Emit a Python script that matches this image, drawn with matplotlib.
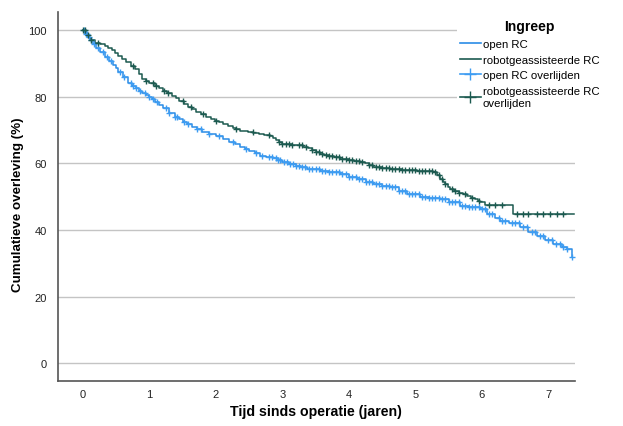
import numpy as np
import matplotlib.pyplot as plt
from matplotlib.lines import Line2D

plt.rcParams['font.family'] = ['Liberation Sans', 'DejaVu Sans']

# Kaplan-Meier curves (time in years, survival in %)
open_t = [0, 0.03, 0.07, 0.1, 0.15, 0.2, 0.26, 0.33, 0.39, 0.45, 0.49, 0.53, 0.6,
          0.68, 0.74, 0.8, 0.85, 0.89, 0.95, 1.0, 1.04, 1.08, 1.14, 1.2, 1.29, 1.38,
          1.44, 1.5, 1.57, 1.64, 1.72, 1.79, 1.9, 2.0, 2.1, 2.2, 2.28, 2.36, 2.43,
          2.5, 2.58, 2.66, 2.76, 2.86, 2.93, 3.0, 3.1, 3.2, 3.28, 3.37, 3.56, 3.7,
          3.86, 4.0, 4.12, 4.25, 4.36, 4.5, 4.62, 4.75, 4.87, 5.07, 5.2, 5.37, 5.5,
          5.67, 5.8, 5.97, 6.08, 6.2, 6.27, 6.4, 6.57, 6.7, 6.83, 6.95, 7.07, 7.2,
          7.28, 7.35]
open_s = [100, 98.8, 97.8, 97, 95.8, 94.5, 93.3, 92, 90.7, 89.5, 88.5, 87.5, 85.8,
          84, 83.2, 82.5, 81.7, 81, 80.4, 79.8, 79.2, 78.5, 77.5, 76.5, 75.2, 74,
          73.2, 72.5, 71.7, 71, 70.2, 69.5, 68.9, 68.3, 67.4, 66.5, 65.7, 64.9, 64.3,
          63.6, 63.0, 62.3, 62.0, 61.7, 61.1, 60.5, 59.9, 59.3, 58.8, 58.3, 57.7, 57.3,
          56.8, 56.0, 55.3, 54.5, 53.8, 53.3, 52.9, 51.8, 50.8, 50.0, 49.6, 49.3,
          48.3, 47.2, 46.8, 46.3, 44.8, 43.5, 42.7, 42.0, 40.9, 39.5, 38.2, 37.0, 35.8,
          34.8, 34.3, 31.9]

robot_t = [0, 0.05, 0.09, 0.12, 0.18, 0.25, 0.33, 0.38, 0.43, 0.48, 0.53, 0.59, 0.65,
           0.72, 0.78, 0.84, 0.89, 0.95, 1.0, 1.08, 1.14, 1.2, 1.27, 1.34, 1.4, 1.45,
           1.52, 1.58, 1.64, 1.7, 1.78, 1.85, 1.92, 1.98, 2.04, 2.1, 2.18, 2.25, 2.3,
           2.36, 2.48, 2.56, 2.65, 2.73, 2.81, 2.86, 2.9, 2.95, 3.0, 3.15, 3.31, 3.38,
           3.45, 3.5, 3.56, 3.63, 3.7, 3.78, 3.86, 4.0, 4.08, 4.17, 4.24, 4.3, 4.36,
           4.5, 4.62, 4.8, 5.02, 5.26, 5.33, 5.37, 5.41, 5.45, 5.49, 5.52, 5.58, 5.65,
           5.71, 5.77, 5.84, 5.9, 5.94, 5.97, 6.05, 6.47, 7.38]
robot_s = [100, 98.5, 97.7, 97, 96, 95.7, 95.3, 94.7, 94, 93.2, 92.3, 91.3, 90.3,
           89.3, 88.4, 86.9, 85.4, 84.8, 84.2, 83.3, 82.5, 81.8, 81, 80.3, 79.5, 78.8,
           77.9, 77, 76.2, 75.5, 74.7, 74, 73.4, 72.8, 72.3, 71.8, 71.2, 70.7, 70.2,
           69.8, 69.5, 69.2, 68.9, 68.6, 68.3, 67.6, 67, 66.4, 65.9, 65.4, 65.0, 64.5,
           64, 63.4, 62.9, 62.5, 62.2, 61.8, 61.4, 61.0, 60.7, 60.5, 60, 59.5, 58.9,
           58.6, 58.3, 57.9, 57.7, 57.4, 56.5, 55.3, 54.5, 53.8, 53, 52.3, 51.7, 51.2,
           50.7, 50.2, 49.7, 49.3, 48.8, 48.4, 47.5, 44.8, 44.8]

# censored observations (years)
open_cens = [0.02, 0.04, 0.06, 0.09, 0.12, 0.16, 0.22, 0.3, 0.36, 0.42, 0.55, 0.62,
             0.72, 0.76, 0.8, 0.86, 0.93, 1.0, 1.05, 1.12, 1.25, 1.3, 1.38, 1.42, 1.52,
             1.58, 1.72, 1.78, 1.9, 2.05, 2.25, 2.45, 2.6, 2.7, 2.8, 2.85, 2.9, 2.93,
             2.97, 3.02, 3.07, 3.12, 3.16, 3.2, 3.25, 3.3, 3.34, 3.4, 3.45, 3.5, 3.55,
             3.6, 3.64, 3.7, 3.75, 3.8, 3.85, 3.9, 3.95, 4.0, 4.05, 4.1, 4.15, 4.2,
             4.25, 4.3, 4.35, 4.4, 4.45, 4.5, 4.55, 4.6, 4.65, 4.7, 4.75, 4.8, 4.85,
             4.9, 4.95, 5.0, 5.05, 5.1, 5.15, 5.2, 5.25, 5.3, 5.35, 5.4, 5.45, 5.5,
             5.55, 5.6, 5.65, 5.7, 5.75, 5.8, 5.85, 5.9, 5.95, 6.0, 6.05, 6.1, 6.15,
             6.25, 6.3, 6.35, 6.45, 6.5, 6.55, 6.62, 6.68, 6.75, 6.8, 6.88, 6.92, 7.0,
             7.05, 7.12, 7.17, 7.22, 7.28, 7.35]
robot_cens = [0.0, 0.03, 0.07, 0.12, 0.22, 0.75, 0.95, 1.05, 1.1, 1.22, 1.28, 1.5,
              1.62, 1.8, 2.0, 2.3, 2.55, 2.8, 2.95, 3.0, 3.05, 3.1, 3.15, 3.25, 3.3,
              3.35, 3.45, 3.5, 3.55, 3.6, 3.65, 3.7, 3.75, 3.8, 3.85, 3.9, 3.95, 4.0,
              4.05, 4.1, 4.15, 4.2, 4.3, 4.35, 4.4, 4.45, 4.5, 4.55, 4.6, 4.65, 4.7,
              4.75, 4.8, 4.85, 4.9, 4.95, 5.0, 5.05, 5.1, 5.15, 5.2, 5.25, 5.3, 5.35,
              5.4, 5.45, 5.55, 5.6, 5.65, 5.75, 5.85, 5.95, 6.1, 6.2, 6.3, 6.53, 6.62,
              6.69, 6.83, 6.92, 7.02, 7.13, 7.22]

c_open = '#2a8ce6'
c_open_mark = '#3d9cf2'
c_robot = '#1c5a50'


def surv_at(times, surv, t):
    idx = np.searchsorted(times, t, side='right') - 1
    return np.array(surv)[np.clip(idx, 0, len(surv) - 1)]


fig = plt.figure(figsize=(6.23, 4.27), dpi=100)
ax = fig.add_axes([0.093, 0.105, 0.83, 0.865])

ax.step(open_t, open_s, where='post', color=c_open, lw=1.1)
ax.step(robot_t, robot_s, where='post', color=c_robot, lw=1.1)
ax.plot(open_cens, surv_at(open_t, open_s, open_cens), ls='none', marker='+',
        ms=4.5, mew=1, color=c_open_mark)
ax.plot(robot_cens, surv_at(robot_t, robot_s, robot_cens), ls='none', marker='+',
        ms=4.5, mew=1, color=c_robot)

ax.set_xlim(-0.376, 7.4)
ax.set_ylim(-5.4, 105.5)
ax.set_xticks(range(0, 8))
ax.set_yticks(range(0, 101, 20))
ax.yaxis.grid(True, color='#c4c4c4', lw=1)
ax.set_axisbelow(True)
ax.tick_params(length=0, labelsize=8, colors='#222222')
ax.tick_params(axis='x', pad=6)
ax.tick_params(axis='y', pad=8)
for s in ['top', 'right']:
    ax.spines[s].set_visible(False)
for s in ['left', 'bottom']:
    ax.spines[s].set_color('#555555')
    ax.spines[s].set_linewidth(1.2)

fig.text(316 / 623, 1 - 412 / 427, 'Tijd sinds operatie (jaren)', fontsize=10.2,
         fontweight='bold', ha='center', va='center')
fig.text(18 / 623, 1 - 205 / 427, 'Cumulatieve overleving (%)', fontsize=9.6,
         fontweight='bold', ha='center', va='center', rotation=90)

handles = [Line2D([], [], color=c_open, lw=1.2),
           Line2D([], [], color=c_robot, lw=1.2),
           Line2D([], [], color=c_open_mark, lw=1.2, marker='+', ms=9, mew=1),
           Line2D([], [], color=c_robot, lw=1.2, marker='+', ms=9, mew=1)]
labels = ['open RC', 'robotgeassisteerde RC', 'open RC overlijden',
          'robotgeassisteerde RC\noverlijden']
leg = fig.legend(handles, labels, loc='upper left', bbox_to_anchor=(0.733, 0.96),
                 title='Ingreep', title_fontproperties={'weight': 'bold', 'size': 10},
                 fontsize=8.2, frameon=True, facecolor='white', edgecolor='none',
                 framealpha=1, handlelength=1.8, handletextpad=0.2, labelspacing=0.5,
                 borderaxespad=0, borderpad=0.3)
leg._legend_box.sep = 4

fig.savefig('out.png', dpi=100)
